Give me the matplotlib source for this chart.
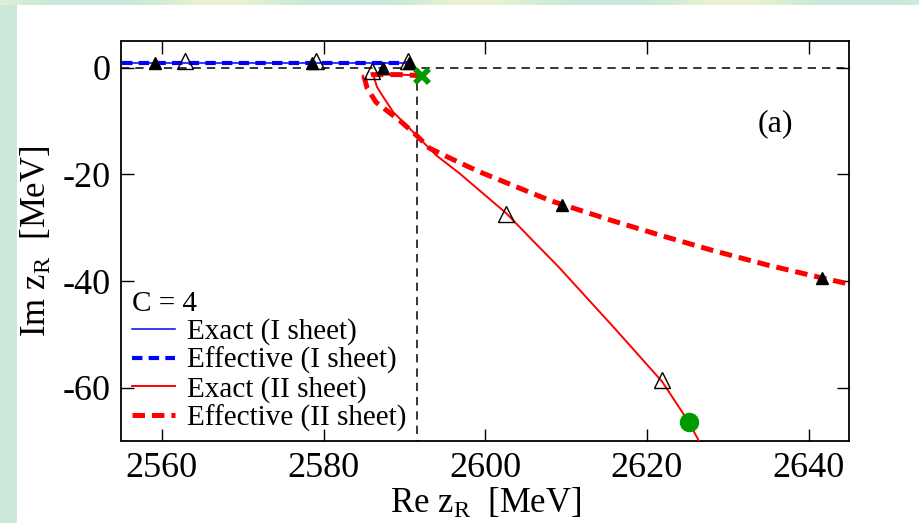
import matplotlib
matplotlib.use("Agg")
import matplotlib.pyplot as plt
import numpy as np

plt.rcParams['font.family'] = ['Liberation Serif', 'DejaVu Serif']
plt.rcParams['mathtext.fontset'] = 'custom'
plt.rcParams['mathtext.rm'] = 'Liberation Serif'
plt.rcParams['mathtext.it'] = 'Liberation Serif:italic'
plt.rcParams['lines.scale_dashes'] = False

# ---------------- data ----------------
# I sheet (bound states)
sheet1_re = [2555.0, 2590.8]
sheet1_im = [0.8, 0.8]

# Exact, II sheet
exact2_re = [2592.2, 2589.4, 2586.6, 2586.2, 2586.6, 2587.3, 2588.6, 2591.5, 2593.9, 2596.8,
             2602.6, 2605.8, 2609.1, 2616.2, 2621.9, 2625.2, 2626.4, 2626.7]
exact2_im = [-1.5, -1.3, -1.3, -1.6, -3.6, -5.3, -8.3, -12.7, -16.4, -19.8,
             -27.3, -32.3, -37.4, -49.2, -58.9, -66.5, -69.9, -71.0]

# Effective, II sheet
eff2_re = [2592.2, 2589.4, 2586.0, 2585.0, 2585.4, 2586.5, 2589.4, 2591.5, 2593.1, 2596.8,
           2599.4, 2608.0, 2615.1, 2621.6, 2628.2, 2634.9, 2641.6, 2646.0]
eff2_im = [-1.5, -1.3, -1.3, -1.7, -3.9, -6.5, -9.9, -12.7, -15.1, -17.8,
           -19.6, -24.9, -28.4, -31.4, -34.3, -37.0, -39.4, -40.9]

# markers
open_tri_re = [2562.8, 2579.1, 2590.4, 2586.0, 2602.6, 2621.9]
open_tri_im = [1.3, 1.3, 1.3, -0.6, -27.4, -58.5]
filled_tri_re = [2559.1, 2578.6, 2590.6, 2587.4, 2609.5, 2641.6]
filled_tri_im = [0.9, 0.9, 0.9, 0.0, -25.8, -39.4]
threshold_re = [2592.2]
threshold_im = [-1.6]
circle_re = [2625.2]
circle_im = [-66.5]
vline_re = 2591.5

xticks = [2560, 2580, 2600, 2620, 2640]
yticks = [0, -20, -40, -60]
legend_labels = ["Exact (I sheet)", "Effective (I sheet)", "Exact (II sheet)", "Effective (II sheet)"]

# ---------------- figure ----------------
fig = plt.figure(figsize=(9.2, 5.23), dpi=100)
fig.patch.set_facecolor('#cae9d9')

# light decorative top band gradient
band = fig.add_axes([0, 1 - 5/523, 1, 5/523], zorder=-20)
gx = np.linspace(0, 1, 200)
wave = 0.5 + 0.5 * np.cos(2 * np.pi * (gx - 0.52) / 0.28)
wave = np.clip(wave, 0, 1) ** 2
c_green = np.array([0.792, 0.914, 0.851])
c_yellow = np.array([0.925, 0.957, 0.820])
img = c_green[None, :] * (1 - wave[:, None]) + c_yellow[None, :] * wave[:, None]
band.imshow(img[None, :, :], aspect='auto', extent=[0, 1, 0, 1])
band.set_axis_off()

bg = fig.add_axes([17/920, 0, 1 - 17/920, 1 - 5/523], zorder=-10)
bg.set_facecolor('white')
bg.set_xticks([]); bg.set_yticks([])
for s in bg.spines.values():
    s.set_visible(False)

ax = fig.add_axes([121.5/920, 1 - 441/523, (849 - 121.5)/920, (441 - 41)/523], zorder=1)
ax.set_xlim(2555, 2645)
ax.set_ylim(-70, 5)

# reference lines
ax.axhline(0, color='black', lw=1.1, dashes=(6, 4.3), zorder=1)
ax.plot([vline_re, vline_re], [0, -70], color='black', lw=1.1, dashes=(6, 4.3), zorder=1)

# curves
l2, = ax.plot(sheet1_re, sheet1_im, color='#0000ff', lw=3.0, dashes=(7.5, 4.5), zorder=2)
l1, = ax.plot(sheet1_re, sheet1_im, color='#0000ff', lw=1.1, zorder=3)
l4, = ax.plot(eff2_re, eff2_im, color='#ff0000', lw=3.6, dashes=(9.0, 5.0), zorder=2)
l3, = ax.plot(exact2_re, exact2_im, color='#ff0000', lw=1.4, zorder=3)

# markers
ax.plot(open_tri_re, open_tri_im, ls='none', marker='^', ms=12, mfc='none', mec='black', mew=1.0, zorder=5)
ax.plot(filled_tri_re, filled_tri_im, ls='none', marker='^', ms=8, mfc='black', mec='black', zorder=5)
ax.plot(threshold_re, threshold_im, ls='none', marker='x', ms=10, mew=4, color='#009a00', zorder=6)
ax.plot(circle_re, circle_im, ls='none', marker='o', ms=13, color='#009a00', zorder=6)

# axes styling
ax.set_xticks(xticks)
ax.set_yticks(yticks)
ax.set_yticklabels([str(v) for v in yticks])
ax.tick_params(direction='in', top=True, right=True, length=9, width=1.0,
               labelsize=26, pad=8)
for s in ax.spines.values():
    s.set_linewidth(1.3)

ax.set_xlabel(r"Re z$_\mathrm{R}$  [MeV]", fontsize=25, labelpad=1)
ax.set_ylabel(r"Im z$_\mathrm{R}$  [MeV]", fontsize=25, labelpad=6)

ax.text(2635.9, -10.5, "(a)", fontsize=23, ha='center', va='center')

leg = ax.legend([l1, l2, l3, l4], legend_labels, title="C = 4", loc='lower left',
                bbox_to_anchor=(0.0, -0.003), frameon=False, fontsize=21, title_fontsize=21,
                handlelength=1.5, handletextpad=0.38, labelspacing=0.06, borderpad=0.15,
                alignment='left', borderaxespad=0.2)

fig.savefig("out.png", dpi=100, facecolor=fig.get_facecolor())
